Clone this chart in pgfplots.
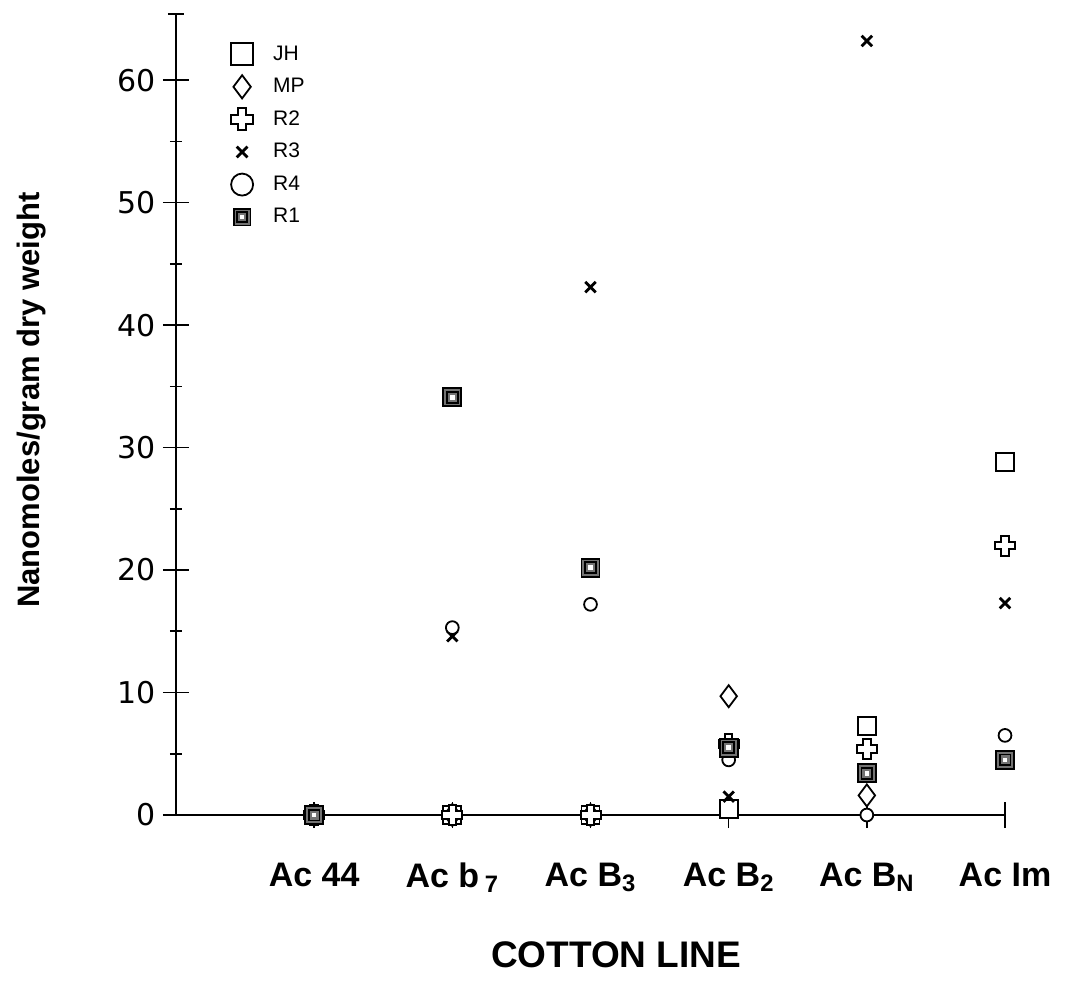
\documentclass[border=0pt]{standalone}
\usepackage{fontspec}
\setmainfont{Liberation Sans}
\newfontfamily\tickfont{DejaVu Sans}
\usepackage{pgfplots}
\pgfplotsset{compat=1.18}

\pgfdeclareplotmark{gcross}{%
  \pgfpathmoveto{\pgfpoint{-0.38\pgfplotmarksize}{\pgfplotmarksize}}%
  \pgfpathlineto{\pgfpoint{0.38\pgfplotmarksize}{\pgfplotmarksize}}%
  \pgfpathlineto{\pgfpoint{0.38\pgfplotmarksize}{0.38\pgfplotmarksize}}%
  \pgfpathlineto{\pgfpoint{\pgfplotmarksize}{0.38\pgfplotmarksize}}%
  \pgfpathlineto{\pgfpoint{\pgfplotmarksize}{-0.38\pgfplotmarksize}}%
  \pgfpathlineto{\pgfpoint{0.38\pgfplotmarksize}{-0.38\pgfplotmarksize}}%
  \pgfpathlineto{\pgfpoint{0.38\pgfplotmarksize}{-\pgfplotmarksize}}%
  \pgfpathlineto{\pgfpoint{-0.38\pgfplotmarksize}{-\pgfplotmarksize}}%
  \pgfpathlineto{\pgfpoint{-0.38\pgfplotmarksize}{-0.38\pgfplotmarksize}}%
  \pgfpathlineto{\pgfpoint{-\pgfplotmarksize}{-0.38\pgfplotmarksize}}%
  \pgfpathlineto{\pgfpoint{-\pgfplotmarksize}{0.38\pgfplotmarksize}}%
  \pgfpathlineto{\pgfpoint{-0.38\pgfplotmarksize}{0.38\pgfplotmarksize}}%
  \pgfpathclose
  \pgfusepathqfillstroke
}
\pgfdeclareplotmark{rone}{%
  \pgfsetfillcolor{black!55}%
  \pgfpathrectangle{\pgfpoint{-\pgfplotmarksize}{-\pgfplotmarksize}}{\pgfpoint{2\pgfplotmarksize}{2\pgfplotmarksize}}%
  \pgfusepathqfillstroke
  \pgfpathrectangle{\pgfpoint{-0.6\pgfplotmarksize}{-0.6\pgfplotmarksize}}{\pgfpoint{1.2\pgfplotmarksize}{1.2\pgfplotmarksize}}%
  \pgfusepathqstroke
  \pgfsetfillcolor{white}%
  \pgfpathrectangle{\pgfpoint{-0.25\pgfplotmarksize}{-0.25\pgfplotmarksize}}{\pgfpoint{0.5\pgfplotmarksize}{0.5\pgfplotmarksize}}%
  \pgfusepathqfill
}

\begin{document}
\begin{tikzpicture}
\path[use as bounding box] (-88pt,-88.5pt) rectangle (446pt,407.5pt);
\begin{axis}[
  at={(0pt,0pt)}, anchor=origin,
  scale only axis, width=414.5pt, height=400.5pt,
  xmin=0, xmax=6, ymin=0, ymax=65.4,
  axis x line=bottom, axis y line=left,
  axis line style={-, line width=1pt},
  clip=false,
  xtick={1,2,3,4,5,6},
  xticklabels={Ac 44, Ac b\,\textsubscript{7}, Ac B\textsubscript{3}, Ac B\textsubscript{2}, Ac B\textsubscript{N}, Ac Im},
  xticklabel style={font=\bfseries\fontsize{17}{17}\selectfont, yshift=-14pt},
  ytick={0,10,...,60},
  minor ytick={5,15,...,55},
  extra y ticks={65.4}, extra y tick labels={},
  extra y tick style={major tick length=8pt},
  /pgf/number format/assume math mode=true,
  yticklabel style={font=\tickfont\fontsize{15}{15}\selectfont, xshift=0pt},
  major tick length=13pt, minor tick length=6pt,
  tick align=center,
  tick style={line width=0.8pt, black},
  xlabel={COTTON LINE},
  ylabel={Nanomoles/gram dry weight},
  every axis x label/.style={at={(axis description cs:0.531,0)}, anchor=center, yshift=-70pt, font=\bfseries\fontsize{18.5}{18.5}\selectfont},
  every axis y label/.style={at={(axis description cs:0,0.518)}, rotate=90, anchor=center, yshift=72pt, font=\bfseries\fontsize{15.5}{15.5}\selectfont},
  legend style={at={(axis description cs:0.066,0.966)}, anchor=north west, draw=none, fill=none,
    font=\fontsize{10.5}{10.5}\selectfont, row sep=3.5pt, inner sep=0pt,
    /tikz/every odd column/.append style={column sep=8pt}},
  legend cell align=left,
]
\addplot[only marks, mark=square*, mark size=4.5pt, mark options={line width=0.9pt, fill=white, draw=black},
  legend image post style={mark size=5.5pt}]
  coordinates {(1,0) (2,0) (3,0) (4,0.5) (5,7.3) (6,28.8)};
\addlegendentry{JH}
\addplot[only marks, mark=diamond*, mark size=5.5pt, mark options={line width=0.9pt, fill=white, draw=black},
  legend image post style={mark size=5.8pt}]
  coordinates {(1,0) (2,0) (3,0) (4,9.7) (5,1.6)};
\addlegendentry{MP}
\addplot[only marks, mark=gcross, mark size=5pt, mark options={line width=1pt, fill=white, draw=black},
  legend image post style={mark size=5.5pt}]
  coordinates {(1,0) (2,0) (3,0) (4,5.8) (5,5.4) (6,22.0)};
\addlegendentry{R2}
\addplot[only marks, mark=x, mark size=3.7pt, mark options={line width=1.4pt, draw=black},
  legend image post style={mark size=3.8pt}]
  coordinates {(1,0) (2,14.6) (3,43.1) (4,1.5) (5,63.2) (6,17.3)};
\addlegendentry{R3}
\addplot[only marks, mark=*, mark size=3.2pt, mark options={line width=0.9pt, fill=white, draw=black},
  legend image post style={mark size=5.5pt}]
  coordinates {(1,0) (2,15.3) (3,17.2) (4,4.5) (5,0) (6,6.5)};
\addlegendentry{R4}
\addplot[only marks, mark=rone, mark size=4.5pt, mark options={line width=0.9pt, draw=black},
  legend image post style={mark size=4.2pt}]
  coordinates {(1,0) (2,34.1) (3,20.2) (4,5.5) (5,3.4) (6,4.5)};
\addlegendentry{R1}
\end{axis}
\end{tikzpicture}
\end{document}
